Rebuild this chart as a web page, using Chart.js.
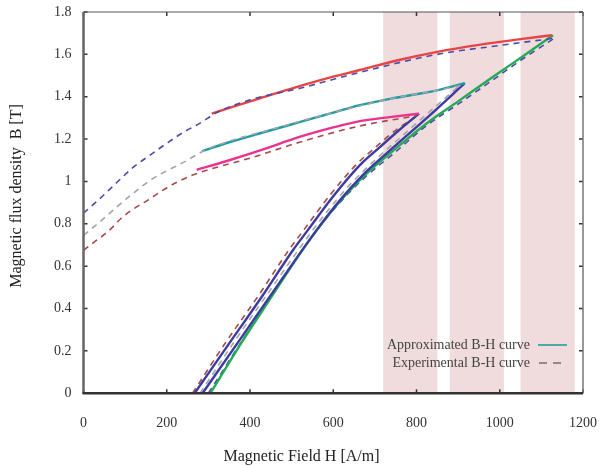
<!DOCTYPE html>
<html>
<head>
<meta charset="utf-8">
<script src="https://cdn.jsdelivr.net/npm/chart.js@4"></script>
<style>
  body { margin: 0; background: #fff; }
  canvas { display: block; }
</style>
</head>
<body>
<canvas id="bhChart" width="603" height="466"></canvas>
<script>
// Ticks
const hTicks = [0, 200, 400, 600, 800, 1000, 1200];
const bTicks = [0, 0.2, 0.4, 0.6, 0.8, 1, 1.2, 1.4, 1.6, 1.8];

// Shaded bands (A/m)
const bandStart = [720, 880, 1050];
const bandEnd = [850, 1010, 1180];

// Upper branches - experimental (dashed)
const expUpperBigH = [0, 40, 80, 120, 160, 200, 240, 280, 320, 400, 520, 664, 850, 1000, 1131];
const expUpperBigB = [0.85, 0.92, 0.995, 1.068, 1.124, 1.18, 1.232, 1.275, 1.325, 1.385, 1.44, 1.515, 1.6, 1.642, 1.676];
const expUpperMidH = [0, 40, 80, 120, 160, 200, 240, 290, 350, 450, 550, 650, 750, 850, 910];
const expUpperMidB = [0.745, 0.81, 0.88, 0.945, 1.005, 1.05, 1.09, 1.145, 1.19, 1.245, 1.3, 1.35, 1.395, 1.43, 1.455];
const expUpperSmallH = [0, 30, 60, 90, 120, 155, 190, 225, 262, 300, 400, 519, 664, 800];
const expUpperSmallB = [0.675, 0.72, 0.765, 0.825, 0.87, 0.912, 0.958, 0.997, 1.03, 1.055, 1.11, 1.185, 1.262, 1.31];

// Upper branches - approximated (solid)
const apxUpperBigH = [308, 358, 420, 519, 600, 664, 750, 850, 950, 1050, 1125];
const apxUpperBigB = [1.32, 1.352, 1.39, 1.45, 1.495, 1.526, 1.57, 1.612, 1.645, 1.672, 1.69];
const apxUpperMidH = [285, 350, 420, 519, 600, 664, 750, 849, 916];
const apxUpperMidB = [1.143, 1.185, 1.225, 1.28, 1.325, 1.36, 1.395, 1.43, 1.464];
const apxUpperSmallH = [272, 350, 430, 519, 600, 664, 740, 806];
const apxUpperSmallB = [1.055, 1.1, 1.15, 1.21, 1.255, 1.285, 1.305, 1.32];

// Lower branches - approximated (solid)
const apxLowerSmallH = [267, 350, 430, 503, 539, 600, 664, 712, 760, 806];
const apxLowerSmallB = [0, 0.235, 0.46, 0.675, 0.77, 0.93, 1.077, 1.162, 1.245, 1.32];
const apxLowerMidH = [286, 380, 470, 560, 620, 671, 750, 825, 916];
const apxLowerMidB = [0, 0.265, 0.52, 0.77, 0.92, 1.03, 1.17, 1.3, 1.464];
const apxLowerBigH = [305, 380, 450, 531, 600, 671, 750, 825, 900, 984, 1060, 1128];
const apxLowerBigB = [0, 0.24, 0.45, 0.69, 0.87, 1.02, 1.155, 1.275, 1.378, 1.494, 1.597, 1.69];

// Lower branches - experimental (dashed)
const expLowerSmallH = [262, 340, 420, 493, 529, 590, 654, 702, 752, 806];
const expLowerSmallB = [0, 0.235, 0.46, 0.675, 0.77, 0.93, 1.077, 1.162, 1.245, 1.315];
const expLowerMidH = [280, 360, 440, 520, 580, 640, 700, 760, 830, 905];
const expLowerMidB = [0, 0.237, 0.463, 0.687, 0.845, 0.985, 1.1, 1.205, 1.327, 1.455];
const expLowerBigH = [300, 380, 450, 531, 600, 671, 750, 825, 900, 984, 1060, 1131];
const expLowerBigB = [0, 0.245, 0.455, 0.69, 0.865, 1.01, 1.14, 1.265, 1.365, 1.48, 1.585, 1.676];

const legendLabels = ['Approximated B-H curve', 'Experimental B-H curve'];
const SERIF = '"Liberation Serif", "DejaVu Serif", serif';

function toPoints(hs, bs) {
    return hs.map((h, i) => ({ x: h, y: bs[i] }));
}

function curve(hs, bs, color, dashed) {
    return {
        data: toPoints(hs, bs),
        showLine: true,
        borderColor: color,
        backgroundColor: color,
        borderWidth: dashed ? 1.6 : 2.4,
        borderDash: dashed ? [6, 5] : [],
        pointRadius: 0,
        cubicInterpolationMode: 'monotone',
        fill: false
    };
}

// pink bands behind the curves
const bandsPlugin = {
    id: 'bands',
    beforeDatasetsDraw(chart) {
        const { ctx, chartArea, scales } = chart;
        ctx.save();
        ctx.fillStyle = '#f0dcdc';
        bandStart.forEach((s, i) => {
            const x1 = scales.x.getPixelForValue(s);
            const x2 = scales.x.getPixelForValue(bandEnd[i]);
            ctx.fillRect(x1, chartArea.top, x2 - x1, chartArea.bottom - chartArea.top);
        });
        ctx.restore();
    }
};

// frame, inward ticks, axis titles and legend
const framePlugin = {
    id: 'frame',
    afterDraw(chart) {
        const { ctx, chartArea: a, scales } = chart;
        ctx.save();

        // inward tick marks
        ctx.strokeStyle = '#333';
        ctx.lineWidth = 1.5;
        hTicks.forEach(v => {
            const x = scales.x.getPixelForValue(v);
            ctx.beginPath();
            ctx.moveTo(x, a.bottom); ctx.lineTo(x, a.bottom - 4);
            ctx.moveTo(x, a.top); ctx.lineTo(x, a.top + 4);
            ctx.stroke();
        });
        bTicks.forEach(v => {
            const y = scales.y.getPixelForValue(v);
            ctx.beginPath();
            ctx.moveTo(a.left, y); ctx.lineTo(a.left + 4, y);
            ctx.moveTo(a.right, y); ctx.lineTo(a.right - 4, y);
            ctx.stroke();
        });

        // frame lines
        ctx.strokeStyle = '#555';
        ctx.lineWidth = 1;
        ctx.beginPath(); ctx.moveTo(a.left, a.top); ctx.lineTo(a.right, a.top); ctx.stroke();
        ctx.strokeStyle = '#777';
        ctx.lineWidth = 1.5;
        ctx.beginPath(); ctx.moveTo(a.right, a.top); ctx.lineTo(a.right, a.bottom); ctx.stroke();
        ctx.strokeStyle = '#666';
        ctx.lineWidth = 2.5;
        ctx.beginPath(); ctx.moveTo(a.left, a.top); ctx.lineTo(a.left, a.bottom); ctx.stroke();
        ctx.strokeStyle = '#333';
        ctx.lineWidth = 2.5;
        ctx.beginPath(); ctx.moveTo(a.left - 1, a.bottom); ctx.lineTo(a.right, a.bottom); ctx.stroke();

        // axis titles
        ctx.fillStyle = '#222';
        ctx.font = '16px ' + SERIF;
        ctx.textAlign = 'center';
        ctx.textBaseline = 'middle';
        ctx.fillText('Magnetic Field H [A/m]', chart.width / 2, 457);
        ctx.save();
        ctx.translate(17, 196);
        ctx.rotate(-Math.PI / 2);
        ctx.fillText('Magnetic flux density  B [T]', 0, 0);
        ctx.restore();

        // legend (text right, sample to the right of it)
        ctx.font = '14px ' + SERIF;
        ctx.textAlign = 'right';
        ctx.fillStyle = '#444';
        ctx.fillText(legendLabels[0], 530, 345);
        ctx.fillText(legendLabels[1], 530, 363);
        ctx.lineWidth = 1.6;
        ctx.strokeStyle = '#2a9aa0';
        ctx.beginPath(); ctx.moveTo(538, 345); ctx.lineTo(567, 345); ctx.stroke();
        ctx.strokeStyle = '#806868';
        ctx.setLineDash([8, 6]);
        ctx.beginPath(); ctx.moveTo(539, 363); ctx.lineTo(567, 363); ctx.stroke();
        ctx.restore();
    }
};

new Chart(document.getElementById('bhChart'), {
    type: 'scatter',
    data: {
        datasets: [
            curve(expUpperBigH, expUpperBigB, '#4a4aa8', true),
            curve(expUpperMidH, expUpperMidB, '#a4a4ac', true),
            curve(expUpperSmallH, expUpperSmallB, '#a84a4a', true),
            curve(apxUpperBigH, apxUpperBigB, '#e84444', false),
            curve(apxUpperMidH, apxUpperMidB, '#1e9ca2', false),
            curve(apxUpperSmallH, apxUpperSmallB, '#ea3390', false),
            curve(apxLowerSmallH, apxLowerSmallB, '#3c3ca0', false),
            curve(apxLowerMidH, apxLowerMidB, '#3c3ca0', false),
            curve(apxLowerBigH, apxLowerBigB, '#22aa55', false),
            curve(expLowerSmallH, expLowerSmallB, '#a84a4a', true),
            curve(expLowerMidH, expLowerMidB, '#a4a4ac', true),
            curve(expLowerBigH, expLowerBigB, '#4a4aa8', true)
        ]
    },
    options: {
        responsive: false,
        animation: false,
        devicePixelRatio: 1,
        layout: { padding: { left: 42, right: 20, top: 12, bottom: 12 } },
        plugins: {
            legend: { display: false },
            tooltip: { enabled: false }
        },
        scales: {
            x: {
                type: 'linear',
                min: 0, max: 1200,
                afterBuildTicks: axis => { axis.ticks = hTicks.map(v => ({ value: v })); },
                // let layout.padding alone decide the plot edges
                afterFit: axis => { axis.paddingLeft = 0; axis.paddingRight = 0; },
                grid: { display: false, drawTicks: false },
                border: { display: false },
                ticks: { color: '#333', padding: 22, maxRotation: 0, font: { family: SERIF, size: 14 },
                         callback: v => String(v) }
            },
            y: {
                type: 'linear',
                min: 0, max: 1.8,
                afterBuildTicks: axis => { axis.ticks = bTicks.map(v => ({ value: v })); },
                afterFit: axis => { axis.paddingTop = 0; axis.paddingBottom = 0; },
                grid: { display: false, drawTicks: false },
                border: { display: false },
                ticks: { color: '#333', padding: 12, font: { family: SERIF, size: 14 },
                         callback: v => String(Math.round(v * 10) / 10) }
            }
        }
    },
    plugins: [bandsPlugin, framePlugin]
});
</script>
</body>
</html>
